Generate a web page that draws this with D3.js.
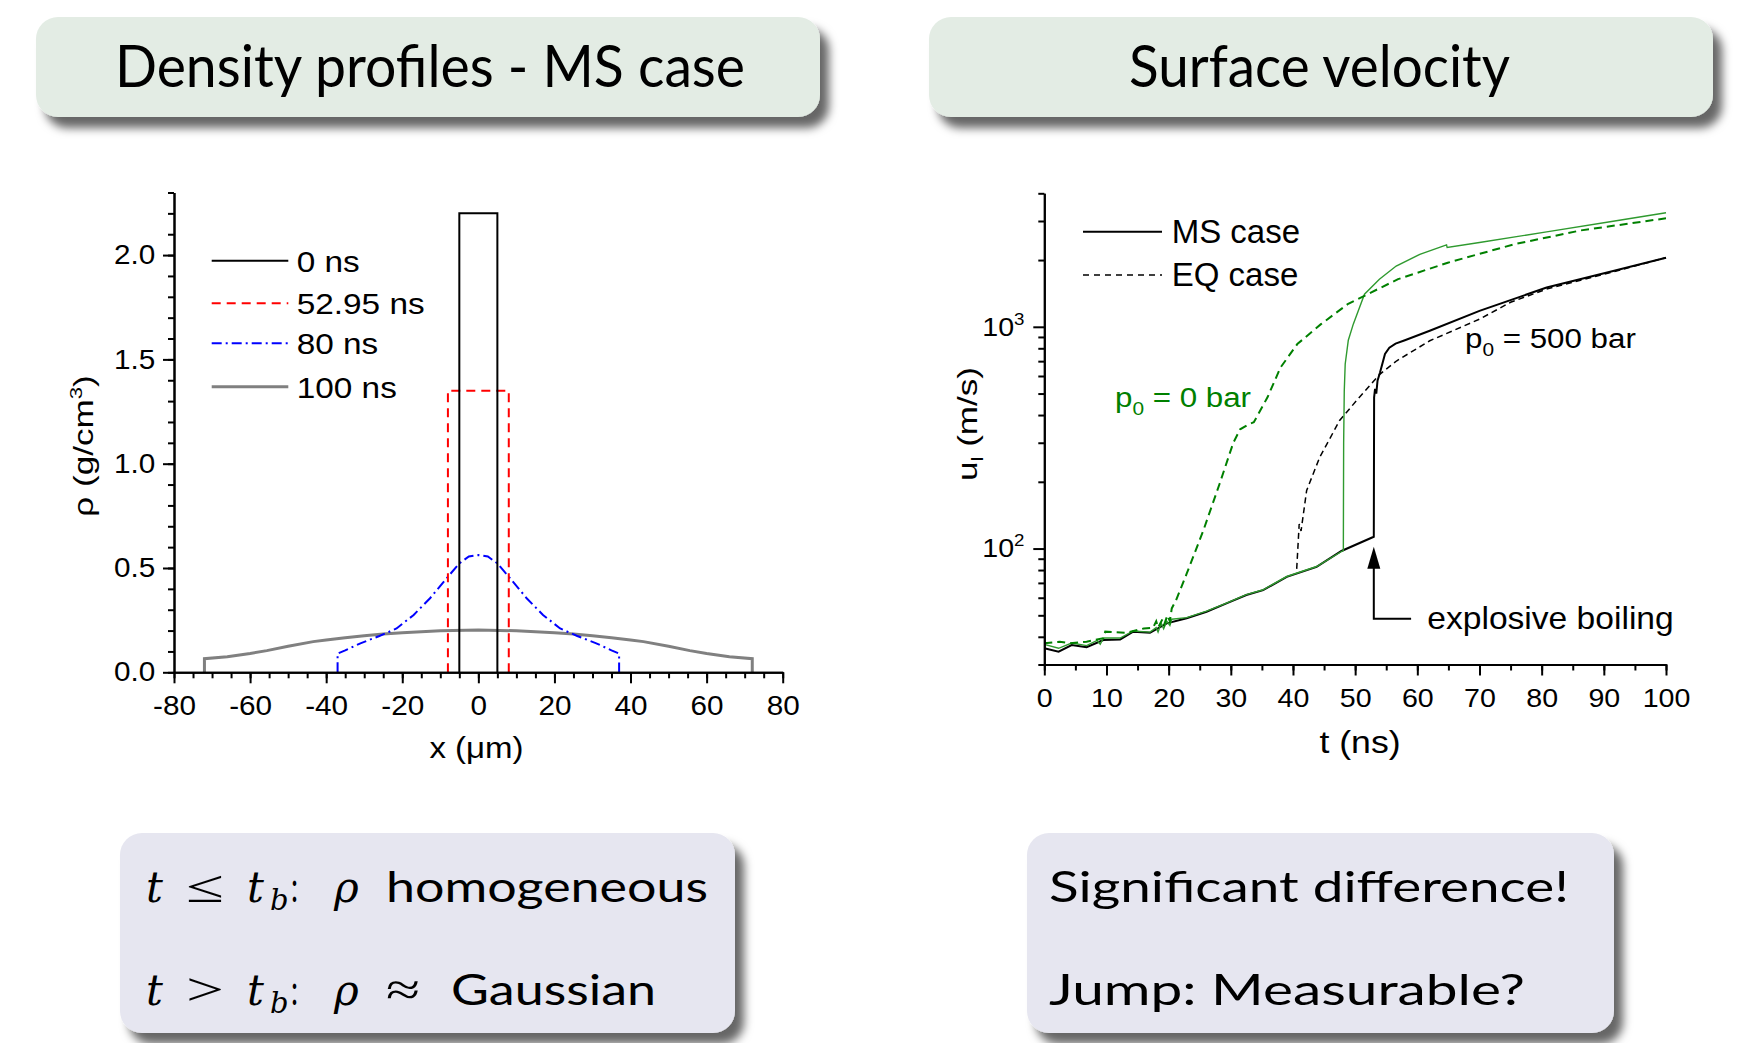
<!DOCTYPE html>
<html>
<head>
<meta charset="utf-8">
<script src="https://cdn.jsdelivr.net/npm/d3@7"></script>
<style>
  body { margin: 0; background: #fff; }
  svg { display: block; }
</style>
</head>
<body>
<script>
// ---- data: density profiles (left panel) ----
var rhoXTicks = [-80, -60, -40, -20, 0, 20, 40, 60, 80]
var rhoYTicks = [0, 0.5, 1.0, 1.5, 2.0]

var x0ns   = [-5, -5, 5, 5]
var rho0ns = [0, 2.2, 2.2, 0]

var x53ns   = [-8, -8, 8, 8]
var rho53ns = [0, 1.35, 1.35, 0]

var x80ns   = [-37, -37, -35, -31, -26, -21.5, -17, -12.7, -8, -5, -2.5, 0, 2.5, 5, 8, 12.7, 17, 21.5, 26, 31, 35, 37, 37]
var rho80ns = [0, 0.09, 0.105, 0.139, 0.174, 0.21, 0.275, 0.355, 0.458, 0.522, 0.555, 0.562, 0.555, 0.522, 0.458, 0.355, 0.275, 0.21, 0.174, 0.139, 0.105, 0.09, 0]

var x100ns   = [-72, -72, -66, -60, -55.6, -50, -43.4, -40, -35, -30, -25, -20, -10, 0, 10, 20, 25, 30, 35, 40, 43.4, 50, 55.6, 60, 66, 72, 72]
var rho100ns = [0, 0.065, 0.075, 0.09, 0.104, 0.125, 0.147, 0.155, 0.166, 0.175, 0.184, 0.19, 0.199, 0.203, 0.199, 0.19, 0.184, 0.175, 0.166, 0.155, 0.147, 0.125, 0.104, 0.09, 0.075, 0.065, 0]

var rhoLegend = ["0 ns", "52.95 ns", "80 ns", "100 ns"]

// ---- data: surface velocity (right panel) ----
var tTicks = [0, 10, 20, 30, 40, 50, 60, 70, 80, 90, 100]
var uTicks = [100, 1000]
var uMinor = [30, 40, 50, 60, 70, 80, 90, 200, 300, 400, 500, 600, 700, 800, 900, 2000, 3000, 4000]

var tMS500 = [0, 2.3, 4.4, 6.8, 9.5, 12.2, 14.3, 17, 19.7, 22.9, 26.1, 29.3, 32.5, 35.2, 39, 43.8, 47.8, 53.0, 53.05, 53.2, 53.4, 53.6, 54, 54.8, 55.5, 56.5, 58, 62, 70, 80.8, 91.5, 100]
var uMS500 = [35.5, 34.3, 36.7, 35.9, 38.7, 38.9, 42.2, 41.7, 46, 48.5, 51.9, 56.6, 61.7, 64.9, 74.5, 82.6, 97.5, 113, 481, 525, 500, 572, 622, 754, 805, 840, 870, 960, 1180, 1503, 1786, 2050]

var tEQ500 = [40.6, 41.0, 41.3, 42.2, 44.3, 47.5, 50.2, 54, 56.7, 62, 70, 75, 80.8, 91.5, 100]
var uEQ500 = [81, 129, 120, 183, 258, 378, 464, 612, 703, 865, 1083, 1290, 1480, 1770, 2050]

var tMS0 = [0, 2.3, 4.4, 6.8, 8.5, 9, 9.5, 12.2, 14.3, 17, 18, 18.3, 18.8, 19.2, 19.7, 20.2, 20.5, 22.9, 26.1, 29.3, 32.5, 35.2, 39, 43.8, 47.8, 48.1, 48.15, 48.25, 48.4, 48.9, 49.7, 51.5, 53.9, 56.6, 60.4, 64.7, 64.8, 70, 80.8, 91.5, 100]
var uMS0 = [37, 35.5, 37.5, 36.5, 38.5, 37, 39.5, 39.5, 42.5, 42, 44, 42, 46, 43.5, 47, 45, 48, 48.8, 52.2, 56.8, 62, 65.2, 74.8, 83, 97, 98, 300, 515, 680, 870, 1028, 1403, 1640, 1880, 2122, 2340, 2277, 2400, 2680, 2993, 3270]

var tEQ0 = [0, 2.5, 4.1, 6.8, 9.5, 9.8, 13.2, 16, 17.5, 18, 18.3, 19, 19.3, 19.8, 20.2, 20.5, 21.2, 22.9, 25.6, 28.2, 30.4, 31.5, 33, 33.7, 35.9, 38, 40.7, 44.5, 48.8, 52, 56.9, 64.9, 75.6, 86.3, 100]
var uEQ0 = [37.4, 38, 37.4, 38, 39.4, 42.2, 41.7, 43.6, 44, 47, 44, 48, 45.5, 50, 47, 53.7, 58.5, 77, 121, 196, 300, 345, 365, 371, 481, 656, 836, 1028, 1265, 1403, 1640, 1946, 2357, 2721, 3085]

// arrow "explosive boiling": t, tip value, base value, elbow end t, label t
var boilArrow = [53, 102, 48.3, 59, 61.6]

var width = 1739,
    height = 1043
var chartFont = "Liberation Sans"
var slideFont = "Lato"

var svg = d3.select("body").append("svg")
    .attr("width", width)
    .attr("height", height)

svg.append("rect").attr("width", width).attr("height", height).attr("fill", "#fff")

var defs = svg.append("defs")
defs.append("filter")
    .attr("id", "shadow")
    .attr("x", "-10%").attr("y", "-20%")
    .attr("width", "130%").attr("height", "160%")
  .append("feDropShadow")
    .attr("dx", 9).attr("dy", 11)
    .attr("stdDeviation", 5)
    .attr("flood-color", "#000")
    .attr("flood-opacity", 0.6)

// stretched text helper (the original graphics are widened)
function label(parent, x, y, size, sx, anchor) {
    return parent.append("text")
        .attr("transform", "translate(" + x + "," + y + ") scale(" + sx + ",1)")
        .attr("font-family", chartFont)
        .attr("font-size", size)
        .attr("text-anchor", anchor || "start")
}

// ---- slide boxes ----
function box(x, y, w, h, fill) {
    svg.append("rect")
        .attr("x", x).attr("y", y)
        .attr("width", w).attr("height", h)
        .attr("rx", 22).attr("ry", 22)
        .attr("fill", fill)
        .attr("filter", "url(#shadow)")
}
box(36, 17, 784, 100, "#e3ece4")
box(929, 17, 784, 100, "#e3ece4")
box(120, 833, 615, 200, "#e6e6f0")
box(1027, 833, 587, 200, "#e6e6f0")

function slideText(x, y, str, len, size) {
    return svg.append("text")
        .attr("x", x).attr("y", y)
        .attr("font-family", slideFont)
        .attr("font-size", size)
        .attr("textLength", len)
        .attr("lengthAdjust", "spacingAndGlyphs")
        .attr("fill", "#000")
        .text(str)
}
slideText(115, 87, "Density profiles - MS case", 630, 59)
slideText(1129, 87, "Surface velocity", 381, 59)

function mathPiece(x, y, str, size, italic, len) {
    var t = svg.append("text")
        .attr("x", x).attr("y", y)
        .attr("font-family", italic ? "DejaVu Serif" : "Liberation Serif")
        .attr("font-size", size)
        .attr("font-style", italic ? "italic" : "normal")
        .text(str)
    if (len) t.attr("textLength", len).attr("lengthAdjust", "spacingAndGlyphs")
    return t
}
// line 1: t <= t_b: rho homogeneous
mathPiece(146, 902, "t", 42, true)
mathPiece(186, 902, "\u2264", 46, false, 38)
mathPiece(247, 902, "t", 42, true)
mathPiece(270, 910, "b", 29, true)
slideText(291, 902, ":", 7, 42)
mathPiece(334, 902, "\u03c1", 42, true)
slideText(386, 902, "homogeneous", 322, 43)
// line 2: t > t_b: rho ~ Gaussian
mathPiece(146, 1005, "t", 42, true)
mathPiece(186, 1005, ">", 46, false, 38)
mathPiece(247, 1005, "t", 42, true)
mathPiece(270, 1013, "b", 29, true)
slideText(291, 1005, ":", 7, 42)
mathPiece(334, 1005, "\u03c1", 42, true)
mathPiece(386, 1005, "\u2248", 46, false, 34)
slideText(451, 1005, "Gaussian", 205, 43)

slideText(1049, 902, "Significant difference!", 520, 43)
slideText(1049, 1005, "Jump:  Measurable?", 476, 43)

// ---- axes helper ----
function styleAxis(g) {
    g.attr("font-family", chartFont)
    g.select(".domain").attr("stroke", "#000").attr("stroke-width", 2)
    g.selectAll(".tick line").attr("stroke", "#000").attr("stroke-width", 2)
    g.selectAll(".tick text").attr("fill", "#000")
}
function plain(d) { return String(d) }

// ================= left panel =================
var xL = d3.scaleLinear().domain([-80, 80]).range([174, 782.7])
var yL = d3.scaleLinear().domain([0, 2.3]).range([672.3, 192.5])
var left = svg.append("g")

var lineL = d3.line()
    .x(function(d) { return xL(d[0]) })
    .y(function(d) { return yL(d[1]) })

left.append("path").datum(d3.zip(x100ns, rho100ns)).attr("d", lineL)
    .attr("fill", "none").attr("stroke", "#808080").attr("stroke-width", 3)
left.append("path").datum(d3.zip(x80ns, rho80ns)).attr("d", lineL)
    .attr("fill", "none").attr("stroke", "#0000ff").attr("stroke-width", 2)
    .attr("stroke-dasharray", "10,4,2,4")
left.append("path").datum(d3.zip(x53ns, rho53ns)).attr("d", lineL)
    .attr("fill", "none").attr("stroke", "#ff0000").attr("stroke-width", 2)
    .attr("stroke-dasharray", "9,6")
left.append("path").datum(d3.zip(x0ns, rho0ns)).attr("d", lineL)
    .attr("fill", "none").attr("stroke", "#000").attr("stroke-width", 2)

left.append("g").attr("transform", "translate(0," + yL(0) + ")")
    .call(d3.axisBottom(xL).tickValues(d3.range(-80, 81, 5)).tickSize(6).tickSizeOuter(0).tickFormat(""))
    .call(styleAxis)
var lxAxis = left.append("g").attr("transform", "translate(0," + yL(0) + ")")
    .call(d3.axisBottom(xL).tickValues(rhoXTicks).tickSize(11).tickPadding(13).tickSizeOuter(0).tickFormat(plain))
    .call(styleAxis)
lxAxis.selectAll(".tick text").attr("font-size", 27).attr("transform", "scale(1.1,1)")

left.append("g").attr("transform", "translate(" + xL(-80) + ",0)")
    .call(d3.axisLeft(yL).tickValues(d3.range(0, 2.31, 0.1)).tickSize(6).tickSizeOuter(0).tickFormat(""))
    .call(styleAxis)
var lyAxis = left.append("g").attr("transform", "translate(" + xL(-80) + ",0)")
    .call(d3.axisLeft(yL).tickValues(rhoYTicks).tickSize(11).tickPadding(6).tickSizeOuter(0).tickFormat(d3.format(".1f")))
    .call(styleAxis)
lyAxis.selectAll(".tick text").attr("font-size", 27).attr("transform", "scale(1.1,1)")

label(left, 476.5, 758, 30, 1.1, "middle").text("x (\u03bcm)")
var rhoLab = left.append("text")
    .attr("transform", "translate(93,446) rotate(-90) scale(1.3,1)")
    .attr("font-family", chartFont).attr("font-size", 27).attr("text-anchor", "middle")
rhoLab.append("tspan").text("\u03c1 (g/cm")
rhoLab.append("tspan").attr("font-size", 17).attr("dy", -11).text("3")
rhoLab.append("tspan").attr("dy", 11).text(")")

// legend
var legStyles = [
    { stroke: "#000", w: 2, dash: null },
    { stroke: "#ff0000", w: 2, dash: "9,6" },
    { stroke: "#0000ff", w: 2, dash: "10,4,2,4" },
    { stroke: "#808080", w: 3, dash: null }
]
var legLineY = [260.7, 303.3, 343.3, 386.7]
rhoLegend.forEach(function(name, i) {
    left.append("line")
        .attr("x1", 211.7).attr("x2", 288.3)
        .attr("y1", legLineY[i]).attr("y2", legLineY[i])
        .attr("stroke", legStyles[i].stroke)
        .attr("stroke-width", legStyles[i].w)
        .attr("stroke-dasharray", legStyles[i].dash)
    label(left, 296.7, legLineY[i] + 11, 29, 1.15).text(name)
})

// ================= right panel =================
var xR = d3.scaleLinear().domain([0, 100]).range([1044.3, 1666])
var yR = d3.scaleLog().domain([30, 4000]).range([664.5, 193.3])
var right = svg.append("g")

var lineR = d3.line()
    .x(function(d) { return xR(d[0]) })
    .y(function(d) { return yR(d[1]) })

right.append("path").datum(d3.zip(tMS500, uMS500)).attr("d", lineR)
    .attr("fill", "none").attr("stroke", "#000").attr("stroke-width", 2)
right.append("path").datum(d3.zip(tEQ500, uEQ500)).attr("d", lineR)
    .attr("fill", "none").attr("stroke", "#000").attr("stroke-width", 1.5)
    .attr("stroke-dasharray", "6,4")
right.append("path").datum(d3.zip(tMS0, uMS0)).attr("d", lineR)
    .attr("fill", "none").attr("stroke", "#2f9a2f").attr("stroke-width", 1.4)
right.append("path").datum(d3.zip(tEQ0, uEQ0)).attr("d", lineR)
    .attr("fill", "none").attr("stroke", "#008000").attr("stroke-width", 2)
    .attr("stroke-dasharray", "8,5")

right.append("g").attr("transform", "translate(0," + yR(30) + ")")
    .call(d3.axisBottom(xR).tickValues(d3.range(0, 101, 5)).tickSize(6).tickSizeOuter(0).tickFormat(""))
    .call(styleAxis)
var rxAxis = right.append("g").attr("transform", "translate(0," + yR(30) + ")")
    .call(d3.axisBottom(xR).tickValues(tTicks).tickSize(11).tickPadding(13).tickSizeOuter(0).tickFormat(plain))
    .call(styleAxis)
rxAxis.selectAll(".tick text").attr("font-size", 26).attr("transform", "scale(1.1,1)")

right.append("g").attr("transform", "translate(" + xR(0) + ",0)")
    .call(d3.axisLeft(yR).tickValues(uMinor).tickSize(6).tickSizeOuter(0).tickFormat(""))
    .call(styleAxis)
var ryAxis = right.append("g").attr("transform", "translate(" + xR(0) + ",0)")
    .call(d3.axisLeft(yR).tickValues(uTicks).tickSize(11).tickPadding(7).tickSizeOuter(0).tickFormat(""))
    .call(styleAxis)
ryAxis.selectAll(".tick text")
    .attr("font-size", 26).attr("transform", "scale(1.1,1)")
    .each(function(d) {
        var t = d3.select(this)
        t.append("tspan").text("10")
        t.append("tspan").attr("font-size", 17).attr("dy", -11).text(Math.round(Math.log10(d)))
    })

label(right, 1360, 753, 31, 1.15, "middle").text("t (ns)")
var uLab = right.append("text")
    .attr("transform", "translate(977,424) rotate(-90) scale(1.3,1)")
    .attr("font-family", chartFont).attr("font-size", 27).attr("text-anchor", "middle")
uLab.append("tspan").text("u")
uLab.append("tspan").attr("font-size", 17).attr("dy", 6).text("l")
uLab.append("tspan").attr("dy", -6).text(" (m/s)")

// legend
right.append("line").attr("x1", 1083).attr("x2", 1162).attr("y1", 231.7).attr("y2", 231.7)
    .attr("stroke", "#000").attr("stroke-width", 2)
right.append("line").attr("x1", 1083).attr("x2", 1162).attr("y1", 275).attr("y2", 275)
    .attr("stroke", "#000").attr("stroke-width", 1.5).attr("stroke-dasharray", "6,5")
label(right, 1171.7, 243.3, 33, 1.0).text("MS case")
label(right, 1171.7, 286, 33, 1.0).text("EQ case")

// annotations
var p0a = label(right, 1115, 406.7, 27, 1.16).attr("fill", "#008000")
p0a.append("tspan").text("p")
p0a.append("tspan").attr("font-size", 18).attr("dy", 8).text("0")
p0a.append("tspan").attr("dy", -8).text(" = 0 bar")

var p0b = label(right, 1465, 348.3, 27, 1.16).attr("fill", "#000")
p0b.append("tspan").text("p")
p0b.append("tspan").attr("font-size", 18).attr("dy", 8).text("0")
p0b.append("tspan").attr("dy", -8).text(" = 500 bar")

var ax = xR(boilArrow[0]),
    tipY = yR(boilArrow[1]),
    baseY = yR(boilArrow[2])
right.append("path")
    .attr("d", "M" + ax + "," + (tipY + 20) + "V" + baseY + "H" + xR(boilArrow[3]))
    .attr("fill", "none").attr("stroke", "#000").attr("stroke-width", 2)
right.append("path")
    .attr("d", "M" + ax + "," + tipY + "L" + (ax - 6.5) + "," + (tipY + 22) + "L" + (ax + 6.5) + "," + (tipY + 22) + "Z")
    .attr("fill", "#000")
label(right, xR(boilArrow[4]), baseY + 10, 32, 1.05).text("explosive boiling")
</script>
</body>
</html>
